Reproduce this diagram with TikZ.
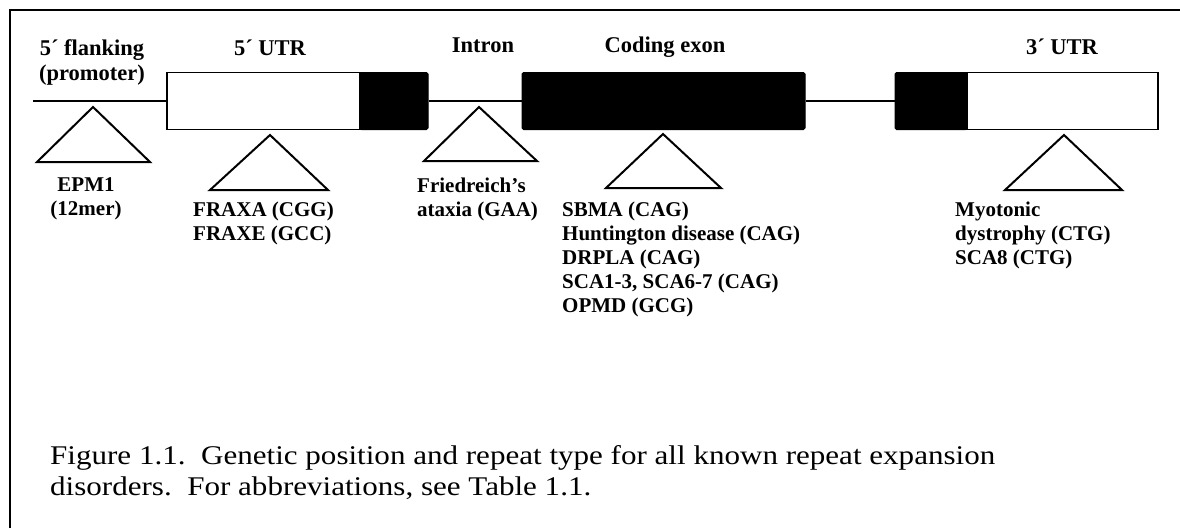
\documentclass[tikz,border=0pt]{standalone}
\usepackage{fontspec}
\setmainfont{Liberation Serif}
\newfontfamily\capfont[FakeStretch=1.15]{Liberation Serif}
\begin{document}
\begin{tikzpicture}[x=1pt,y=-1pt,
  lbl/.style={font=\bfseries\fontsize{21}{24}\selectfont, inner sep=0pt, align=left},
  toplbl/.style={font=\bfseries\fontsize{22.5}{25}\selectfont, inner sep=0pt, align=center, anchor=base},
  captiontext/.style={font=\capfont\fontsize{27}{31}\selectfont, inner sep=0pt, align=left},
  whitebox/.style={draw=black, fill=white, line width=1.8pt, minimum height=57pt, inner sep=0pt},
  blackbox/.style={draw=black, fill=black, line width=1pt, rounded corners=1.5pt, minimum height=57pt, inner sep=0pt},
  backbone/.style={line width=2pt},
  tri/.style={line width=2pt, line join=miter},
  frame/.style={line width=2.2pt}
]
\useasboundingbox (0,0) rectangle (1180,528);
% frame (top and left edges)
\draw[frame] (10,528) -- (10,10) -- (1180,10);

% gene structure
\coordinate (fl) at (33,101);
\node[whitebox, minimum width=193pt] (u5w) at (263.5,101) {};
\node[blackbox, minimum width=68pt] (u5b) at (394,101) {};
\node[blackbox, minimum width=283pt] (cex) at (663.5,101) {};
\node[blackbox, minimum width=72pt] (u3b) at (931,101) {};
\node[whitebox, minimum width=191pt] (u3w) at (1062.5,101) {};
\draw[backbone] (fl) -- (u5w.west);
\draw[backbone] (u5b.east) -- (cex.west);
\draw[backbone] (cex.east) -- (u3b.west);

% region labels
\node[toplbl] (t1a) at (92,55) {5´ flanking};
\node[toplbl] (t1b) at (92,80) {(promoter)};
\node[toplbl] (t2) at (270,55) {5´ UTR};
\node[toplbl] (t3) at (483,52) {Intron};
\node[toplbl] (t4) at (665,52) {Coding exon};
\node[toplbl] (t5) at (1062,54) {3´ UTR};

% triangles
\draw[tri] (93,107) -- (150,162) -- (37,162) -- cycle;
\draw[tri] (270,135) -- (328,190) -- (210,190) -- cycle;
\draw[tri] (479,107) -- (537,161) -- (424,161) -- cycle;
\draw[tri] (663,134) -- (721,188) -- (606,188) -- cycle;
\draw[tri] (1064,135) -- (1122,190) -- (1005,190) -- cycle;

% disorder labels
\node[lbl, align=center] (d1) at (86,199) {EPM1\\(12mer)};
\node[lbl, anchor=north west] (d2) at (193,202) {FRAXA (CGG)\\FRAXE (GCC)};
\node[lbl, anchor=north west] (d3) at (417,178) {Friedreich's\\ataxia (GAA)};
\node[lbl, anchor=north west] (d4) at (562,202) {SBMA (CAG)\\Huntington disease (CAG)\\DRPLA (CAG)\\SCA1-3, SCA6-7 (CAG)\\OPMD (GCG)};
\node[lbl, anchor=north west] (d5) at (955,202) {Myotonic\\dystrophy (CTG)\\SCA8 (CTG)};

% caption
\node[captiontext, anchor=north west] (capt) at (50,445) {Figure 1.1.\ \ Genetic position and repeat type for all known repeat expansion\\disorders.\ \ For abbreviations, see Table 1.1.};
\end{tikzpicture}
\end{document}
